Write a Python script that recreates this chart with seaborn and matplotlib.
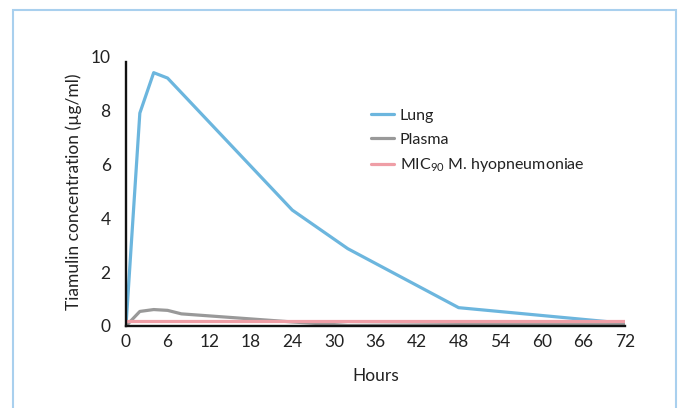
import numpy as np
import pandas as pd
import seaborn as sns
import matplotlib.pyplot as plt
from matplotlib.patches import Rectangle

#data
hours_lung = [0, 2, 4, 6, 24, 32, 48, 72]
lung = [0, 7.9, 9.4, 9.2, 4.3, 2.87, 0.68, 0.1]

hours_plasma = [0, 2, 4, 6, 8, 24, 32, 48, 72]
plasma = [0, 0.54, 0.61, 0.58, 0.45, 0.15, 0.02, 0.05, 0.05]

hours_mic = [0, 72]
mic = [0.2, 0.2]

x_ticks = list(range(0, 73, 6))
y_ticks = [0, 2, 4, 6, 8, 10]

sns.set_theme(style='white')
plt.rcParams['font.family'] = ['Lato', 'DejaVu Sans']
plt.rcParams['mathtext.fontset'] = 'custom'
plt.rcParams['mathtext.rm'] = 'Lato'
plt.rcParams['mathtext.it'] = 'Lato'

fig = plt.figure(figsize=(6.78, 4.08), dpi=100)
ax = fig.add_axes([0.1858, 0.201, 0.736, 0.6605])

#light blue frame round the figure
fig.patches.append(Rectangle((13 / 678, -0.05), (676 - 13) / 678, 1 - 10 / 408 + 0.05,
                             transform=fig.transFigure, fill=False,
                             edgecolor='#a9d0ee', lw=1.5))

sns.lineplot(x=hours_lung, y=lung, ax=ax, color='#6cb6de', lw=2.3, label='Lung')
sns.lineplot(x=hours_plasma, y=plasma, ax=ax, color='#999999', lw=2.3, label='Plasma')
sns.lineplot(x=hours_mic, y=mic, ax=ax, color='#ef9ea6', lw=2.3,
             label='MIC$_{90}$ M. hyopneumoniae')

ax.set_xlim(0, 72)
ax.set_ylim(0, 10)
ax.set_xticks(x_ticks)
ax.set_yticks(y_ticks)
ax.tick_params(axis='x', length=0, pad=6, labelsize=12.5, colors='#222222')
ax.tick_params(axis='y', length=0, pad=11, labelsize=12.5, colors='#222222')

for s in ['top', 'right']:
    ax.spines[s].set_visible(False)
for s in ['left', 'bottom']:
    ax.spines[s].set_color('#111111')
    ax.spines[s].set_linewidth(1.7)
ax.spines['left'].set_bounds(0, 9.8)

ax.set_xlabel('Hours', fontsize=12.5, color='#222222', labelpad=13)
ax.set_ylabel('Tiamulin concentration (µg/ml)', fontsize=12.5, color='#222222', labelpad=6)

ax.legend(loc='upper left', bbox_to_anchor=(0.462, 0.86), frameon=False,
          fontsize=11.5, handlelength=1.45, handletextpad=0.35, labelspacing=0.6,
          labelcolor='#222222')

plt.savefig('out.png', dpi=100)
